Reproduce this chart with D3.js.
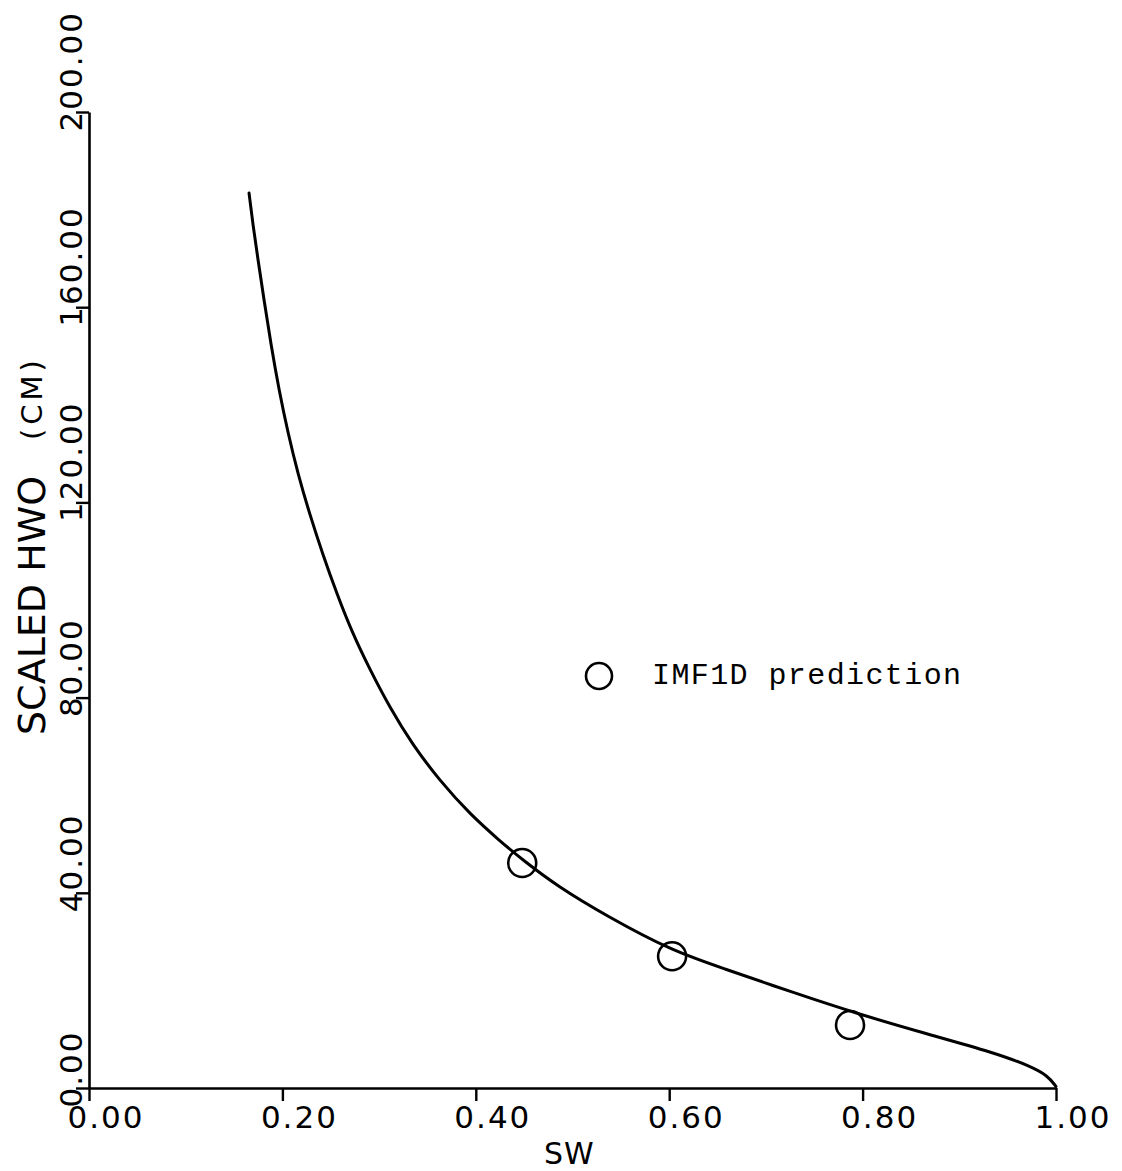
<!DOCTYPE html>
<html>
<head>
<meta charset="utf-8">
<script src="https://cdn.jsdelivr.net/npm/d3@7"></script>
<style>
  html, body { margin: 0; padding: 0; background: #fff; }
  svg { display: block; }
</style>
</head>
<body>
<svg id="chart" width="1122" height="1171"></svg>
<script>
// ---- data ----
const curveSW  = [0.1655, 0.1696, 0.1748, 0.181, 0.1882, 0.1965, 0.2058, 0.2161, 0.2285, 0.242, 0.2565, 0.272, 0.2906, 0.3113, 0.334, 0.363, 0.394, 0.425, 0.4488, 0.484, 0.5357, 0.603, 0.6546, 0.729, 0.795, 0.8625, 0.937, 0.973, 0.9917, 1.0];
const curveHWO = [183.4, 176.8, 169.7, 161.5, 152.3, 143.0, 134.2, 125.8, 117.4, 109.2, 101.2, 93.4, 85.7, 77.9, 70.5, 62.9, 56.1, 50.6, 46.7, 41.4, 35.2, 28.1, 24.6, 19.5, 15.2, 11.3, 7.2, 4.5, 2.5, 0.3];
const predSW   = [0.448, 0.603, 0.787];
const predHWO  = [46.1, 27.0, 12.9];
const xTicks   = [0, 0.2, 0.4, 0.6, 0.8, 1.0];
const yTicks   = [0, 40, 80, 120, 160, 200];
const xTitle   = "SW";
const yTitle   = "SCALED HWO";
const yUnit    = "(CM)";
const legendLabel = "IMF1D prediction";

// ---- chart ----
const svg = d3.select("#chart");
const x = d3.scaleLinear().domain([0, 1]).range([89, 1056]);
const y = d3.scaleLinear().domain([0, 200]).range([1088, 112]);
const fmt = d3.format(".2f");
const tickFont = "'DejaVu Sans', sans-serif";

// x axis
const gx = svg.append("g").attr("transform", `translate(0,${y(0)})`)
  .call(d3.axisBottom(x).tickValues(xTicks).tickFormat(fmt).tickSize(13).tickSizeOuter(0));
gx.select(".domain").attr("stroke", "#000").attr("stroke-width", 2.6);
gx.selectAll(".tick line").attr("stroke", "#000").attr("stroke-width", 2.4);
gx.selectAll(".tick text")
  .attr("text-anchor", "start").attr("x", -22).attr("y", 40).attr("dy", 0)
  .attr("fill", "#000").style("font-family", tickFont).style("font-size", "31px")
  .style("letter-spacing", "2px");

// y axis
const gy = svg.append("g").attr("transform", `translate(${x(0)},0)`)
  .call(d3.axisLeft(y).tickValues(yTicks).tickFormat(fmt).tickSize(13).tickSizeOuter(0));
gy.select(".domain").attr("stroke", "#000").attr("stroke-width", 2.6);
gy.selectAll(".tick line").attr("stroke", "#000").attr("stroke-width", 2.4);
gy.selectAll(".tick text")
  .attr("transform", "rotate(-90)")
  .attr("text-anchor", "start").attr("x", -19).attr("y", -7).attr("dy", 0)
  .attr("fill", "#000").style("font-family", tickFont).style("font-size", "31px")
  .style("letter-spacing", "2px");

// titles
svg.append("text").text(xTitle)
  .attr("x", 544).attr("y", 1164)
  .style("font-family", tickFont).style("font-size", "30px").style("letter-spacing", "1px");

svg.append("text").text(yTitle)
  .attr("transform", "translate(45,735) rotate(-90)")
  .attr("text-anchor", "start")
  .style("font-family", tickFont).style("font-size", "38px");

svg.append("text").text(yUnit)
  .attr("transform", "translate(42,440) rotate(-90)")
  .attr("text-anchor", "start")
  .style("font-family", tickFont).style("font-size", "29px").style("letter-spacing", "4px");

// curve
const pts = curveSW.map((d, i) => [d, curveHWO[i]]);
svg.append("path")
  .datum(pts)
  .attr("fill", "none").attr("stroke", "#000").attr("stroke-width", 3)
  .attr("stroke-linejoin", "round").attr("stroke-linecap", "round")
  .attr("d", d3.line().x(d => x(d[0])).y(d => y(d[1])).curve(d3.curveBasis));

// prediction markers
svg.selectAll("circle.pred")
  .data(predSW.map((d, i) => [d, predHWO[i]]))
  .join("circle").attr("class", "pred")
  .attr("cx", d => x(d[0])).attr("cy", d => y(d[1])).attr("r", 14)
  .attr("fill", "none").attr("stroke", "#000").attr("stroke-width", 2.6);

// legend
svg.append("circle").attr("cx", 599).attr("cy", 676).attr("r", 13)
  .attr("fill", "none").attr("stroke", "#000").attr("stroke-width", 2.6);
svg.append("text").text(legendLabel)
  .attr("x", 652).attr("y", 684)
  .style("font-family", "'Liberation Mono', 'DejaVu Sans Mono', monospace")
  .style("font-size", "30px").style("letter-spacing", "1.4px");
</script>
</body>
</html>
